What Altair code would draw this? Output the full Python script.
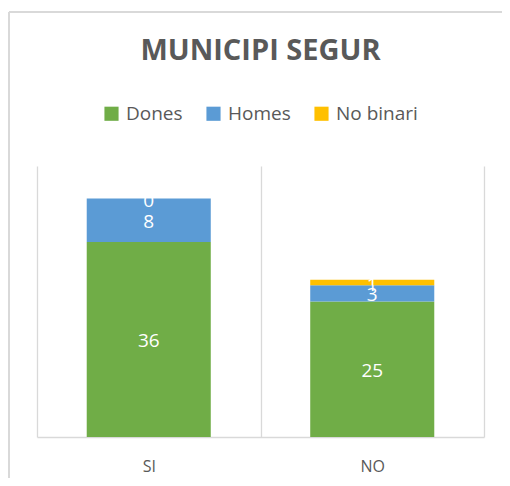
import altair as alt
import pandas as pd

categories = ["SI", "NO"]
series = ["Dones", "Homes", "No binari"]
dones = [36, 25]
homes = [8, 3]
nobinari = [0, 1]
colors = ["#70AD47", "#5B9BD5", "#FFC000"]

rows = []
for i, c in enumerate(categories):
    for j, (s, vals) in enumerate(zip(series, [dones, homes, nobinari])):
        rows.append({"cat": c, "serie": s, "value": vals[i], "ord": j})
df = pd.DataFrame(rows)

FONT = "Open Sans"
GREY = "#595959"
LINE = "#D9D9D9"

base = alt.Chart(df)

xenc = alt.X("cat:N", sort=categories, title=None,
             scale=alt.Scale(paddingInner=0, paddingOuter=0),
             axis=alt.Axis(grid=True, tickBand="extent", gridColor=LINE, gridWidth=1.3,
                           ticks=False, domainColor=LINE, domainWidth=1.3,
                           labelColor=GREY, labelFontSize=16, labelFont=FONT,
                           labelPadding=21, labelAngle=0))

bars = base.mark_bar(width=alt.RelativeBandSize(0.555)).encode(
    x=xenc,
    y=alt.Y("value:Q", stack="zero", scale=alt.Scale(domain=[0, 50]), axis=None),
    color=alt.Color("serie:N", sort=series,
                    scale=alt.Scale(domain=series, range=colors),
                    legend=alt.Legend(title=None, orient="none", direction="horizontal",
                                      legendX=65, legendY=-62,
                                      symbolType="square", symbolSize=200,
                                      symbolStrokeWidth=0,
                                      labelFont=FONT, labelFontSize=19, labelColor=GREY,
                                      columnPadding=21, labelOffset=5)),
    order=alt.Order("ord:Q", sort="ascending"),
)

labels = base.transform_stack(
    stack="value", groupby=["cat"], as_=["y0", "y1"],
    sort=[alt.SortField("ord", order="ascending")]
).transform_calculate(
    mid="(datum.y0 + datum.y1) / 2"
).mark_text(color="white", font=FONT, fontSize=19, baseline="middle", dy=2).encode(
    x=alt.X("cat:N", sort=categories),
    y=alt.Y("mid:Q", scale=alt.Scale(domain=[0, 50])),
    text=alt.Text("value:Q"),
)

frame_left = base.mark_rule(color=LINE, strokeWidth=2, clip=False).encode(
    x=alt.value(-28), y=alt.value(-154), y2=alt.value(330))
frame_top = base.mark_rule(color=LINE, strokeWidth=2, clip=False).encode(
    x=alt.value(-28), x2=alt.value(520), y=alt.value(-154))

chart = alt.layer(frame_left, frame_top, bars, labels).properties(
    width=447, height=271,
    title=alt.TitleParams("MUNICIPI SEGUR", font=FONT, fontSize=29, fontWeight="bold",
                          color=GREY, anchor="middle", offset=-55),
    autosize=alt.AutoSizeParams(type="none"),
    padding={"left": 29, "top": 158, "right": 18, "bottom": 41},
).configure_view(stroke=None)

chart.save("out.html", embed_options={"renderer": "svg", "actions": False})
